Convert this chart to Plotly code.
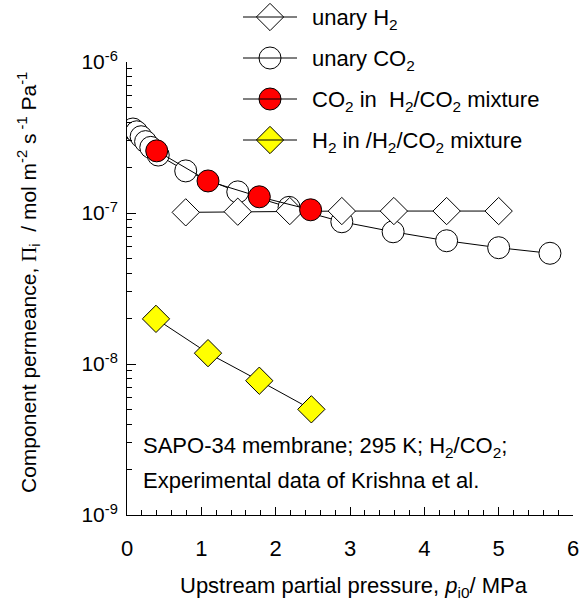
import plotly.graph_objects as go

# ---- data ----
unary_h2_x = [0.79, 1.49, 2.19, 2.89, 3.59, 4.30, 5.00]
unary_h2_y = [1.01e-7, 1.02e-7, 1.03e-7, 1.03e-7, 1.03e-7, 1.03e-7, 1.03e-7]

unary_co2_x = [0.08, 0.13, 0.19, 0.25, 0.32, 0.42, 0.79, 1.49, 2.18, 2.89, 3.58, 4.30, 5.00, 5.69]
unary_co2_y = [3.60e-7, 3.45e-7, 3.20e-7, 2.97e-7, 2.72e-7, 2.42e-7,
               1.90e-7, 1.38e-7, 1.09e-7, 8.75e-8, 7.51e-8, 6.55e-8, 5.89e-8, 5.41e-8]

mix_co2_x = [0.40, 1.09, 1.78, 2.47]
mix_co2_y = [2.58e-7, 1.63e-7, 1.28e-7, 1.05e-7]

mix_h2_x = [0.39, 1.09, 1.78, 2.48]
mix_h2_y = [1.99e-8, 1.18e-8, 7.75e-9, 5.01e-9]

x_ticks = [0, 1, 2, 3, 4, 5, 6]
y_tickvals = [1e-9, 1e-8, 1e-7, 1e-6]
y_ticktext = ["10<sup>-9</sup>", "10<sup>-8</sup>", "10<sup>-7</sup>", "10<sup>-6</sup>"]
y_minor = [k * 10.0 ** e for e in (-9, -8, -7) for k in range(2, 10)]

legend_names = ["unary H<sub>2</sub>", "unary CO<sub>2</sub>",
                "CO<sub>2</sub> in  H<sub>2</sub>/CO<sub>2</sub> mixture",
                "H<sub>2</sub> in /H<sub>2</sub>/CO<sub>2</sub> mixture"]

# ---- layout in pixels ----
FONT = "Liberation Sans, Arial, sans-serif"
W, H = 588, 607
PX0, PX1, PY0, PY1 = 127, 573, 62, 515   # plot area (left, right, top, bottom)

styles = [
    dict(symbol="diamond", size=21, color="white"),
    dict(symbol="circle", size=22, color="white"),
    dict(symbol="circle", size=22, color="#ff0000"),
    dict(symbol="diamond", size=21, color="#ffff00"),
]
series = [(unary_h2_x, unary_h2_y), (unary_co2_x, unary_co2_y),
          (mix_co2_x, mix_co2_y), (mix_h2_x, mix_h2_y)]

fig = go.Figure()
for i in [1, 0, 3, 2]:
    xs, ys = series[i]
    st = styles[i]
    fig.add_trace(go.Scatter(
        x=xs, y=ys, mode="lines+markers", showlegend=False,
        line=dict(color="black", width=1),
        marker=dict(symbol=st["symbol"], size=st["size"], color=st["color"],
                    line=dict(color="black", width=1)),
    ))

def pp(px, py):
    return px / W, 1 - py / H

# ---- custom legend ----
leg_rows = [17, 58, 99, 140]
shapes, annotations = [], []
leg_mx, leg_my = [], []
for name, row in zip(legend_names, leg_rows):
    x0, y0 = pp(243, row)
    x1, _ = pp(297, row)
    shapes.append(dict(type="line", xref="paper", yref="paper", x0=x0, x1=x1,
                       y0=y0, y1=y0, line=dict(color="black", width=1)))
    leg_mx.append(270)
    leg_my.append(row)
    tx, ty = pp(310, row + 2)
    annotations.append(dict(xref="paper", yref="paper", x=tx, y=ty, text=name,
                            showarrow=False, xanchor="left", yanchor="middle",
                            font=dict(size=22, color="black", family=FONT)))

for k in range(4):
    st = styles[k]
    fig.add_trace(go.Scatter(
        x=[leg_mx[k]], y=[leg_my[k]], xaxis="x2", yaxis="y2", mode="markers",
        showlegend=False, cliponaxis=False, hoverinfo="skip",
        marker=dict(symbol=st["symbol"], size=st["size"], color=st["color"],
                    line=dict(color="black", width=1)),
    ))

# text box
for txt, py in [("SAPO-34 membrane; 295 K; H<sub>2</sub>/CO<sub>2</sub>;", 447),
                ("Experimental data of Krishna et al.", 480)]:
    tx, ty = pp(141, py)
    annotations.append(dict(xref="paper", yref="paper", x=tx, y=ty, text=txt,
                            showarrow=False, xanchor="left", yanchor="middle",
                            font=dict(size=22, color="black", family=FONT)))

# axis titles
tx, ty = pp(354, 587)
annotations.append(dict(xref="paper", yref="paper", x=tx, y=ty,
                        text="Upstream partial pressure, <i>p</i><sub>i0</sub>/ MPa",
                        showarrow=False, xanchor="center", yanchor="middle",
                        font=dict(size=22, color="black", family=FONT)))
tx, ty = pp(28, 283)
annotations.append(dict(xref="paper", yref="paper", x=tx, y=ty,
                        text="Component permeance, <span style=\"font-family:'Liberation Serif'\">Π</span><sub>i</sub>  / mol m<sup>-2</sup> s<sup> -1</sup> Pa<sup>-1</sup>",
                        showarrow=False, textangle=-90, xanchor="center", yanchor="middle",
                        font=dict(size=21, color="black", family=FONT)))

fig.update_layout(
    template="none",
    width=W, height=H, autosize=False,
    margin=dict(l=0, r=0, t=0, b=0, pad=0),
    paper_bgcolor="white", plot_bgcolor="rgba(0,0,0,0)",
    font=dict(family=FONT, color="black"),
    shapes=shapes, annotations=annotations,
    xaxis=dict(domain=[PX0 / W, PX1 / W], anchor="y", automargin=False,
               range=[0, 6], tickvals=x_ticks, ticks="inside", ticklen=8,
               tickwidth=1, tickcolor="black", showline=True, linecolor="black",
               linewidth=1, showgrid=False, zeroline=False, ticklabelstandoff=14,
               tickfont=dict(size=22, family=FONT, color="black"),
               minor=dict(dtick=0.2, ticks="inside", ticklen=5, tickcolor="black",
                          tickwidth=1, showgrid=False)),
    yaxis=dict(domain=[1 - PY1 / H, 1 - PY0 / H], anchor="x", automargin=False,
               type="log", range=[-9, -6], tickvals=y_tickvals, ticktext=y_ticktext,
               ticks="inside", ticklen=9, tickwidth=1, tickcolor="black",
               showline=True, linecolor="black", linewidth=1, showgrid=False,
               zeroline=False, ticklabelstandoff=4,
               tickfont=dict(size=21, family=FONT, color="black"),
               minor=dict(tickvals=y_minor, ticks="inside", ticklen=5, tickcolor="black",
                          tickwidth=1, showgrid=False)),
    xaxis2=dict(domain=[0, 1], anchor="y2", range=[0, W], visible=False,
                fixedrange=True, automargin=False),
    yaxis2=dict(domain=[0, 1], anchor="x2", range=[H, 0], visible=False,
                fixedrange=True, automargin=False),
)

fig.write_html("out.html")
